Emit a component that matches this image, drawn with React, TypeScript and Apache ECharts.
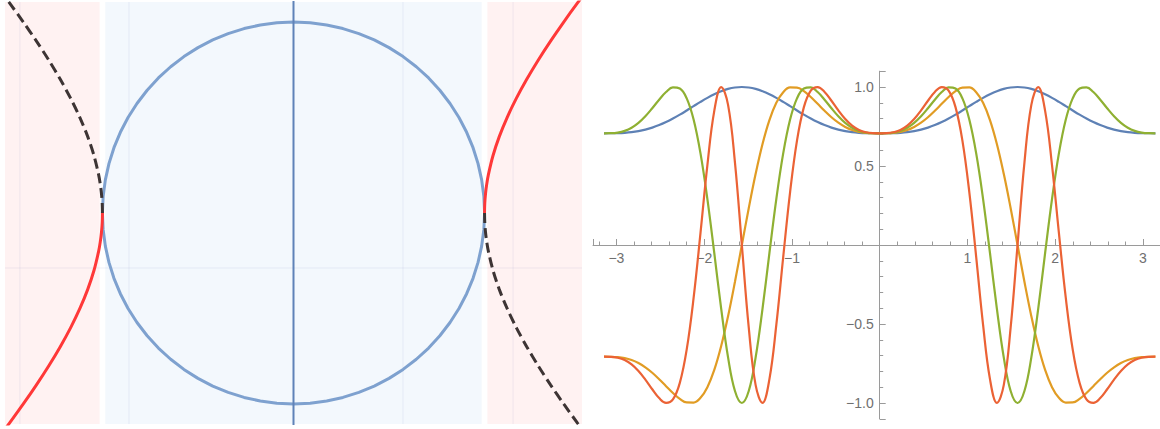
import { useEffect, useRef } from "react";
import * as echarts from "echarts";

// ---------- Right panel: four curves sampled on [-pi, pi] ----------
const xs = [
  -3.1416, -3.0631, -2.9845, -2.906, -2.8274, -2.7489, -2.6704, -2.5918, -2.5133, -2.4347,
  -2.3562, -2.2777, -2.1991, -2.1206, -2.042, -1.9635, -1.885, -1.8064, -1.7279, -1.6493,
  -1.5708, -1.4923, -1.4137, -1.3352, -1.2566, -1.1781, -1.0996, -1.021, -0.9425, -0.8639,
  -0.7854, -0.7069, -0.6283, -0.5498, -0.4712, -0.3927, -0.3142, -0.2356, -0.1571, -0.0785,
  0,
  0.0785, 0.1571, 0.2356, 0.3142, 0.3927, 0.4712, 0.5498, 0.6283, 0.7069, 0.7854,
  0.8639, 0.9425, 1.021, 1.0996, 1.1781, 1.2566, 1.3352, 1.4137, 1.4923, 1.5708,
  1.6493, 1.7279, 1.8064, 1.885, 1.9635, 2.042, 2.1206, 2.1991, 2.2777, 2.3562,
  2.4347, 2.5133, 2.5918, 2.6704, 2.7489, 2.8274, 2.906, 2.9845, 3.0631, 3.1416,
];

const blueY = [
  0.7071, 0.7072, 0.708, 0.7102, 0.7142, 0.7208, 0.7303, 0.743, 0.759, 0.7783,
  0.8005, 0.8251, 0.8515, 0.8787, 0.9057, 0.9312, 0.9541, 0.9734, 0.9879, 0.9969,
  1.0, 0.9969, 0.9879, 0.9734, 0.9541, 0.9312, 0.9057, 0.8787, 0.8515, 0.8251,
  0.8005, 0.7783, 0.759, 0.743, 0.7303, 0.7208, 0.7142, 0.7102, 0.708, 0.7072,
  0.7071,
  0.7072, 0.708, 0.7102, 0.7142, 0.7208, 0.7303, 0.743, 0.759, 0.7783, 0.8005,
  0.8251, 0.8515, 0.8787, 0.9057, 0.9312, 0.9541, 0.9734, 0.9879, 0.9969, 1.0,
  0.9969, 0.9879, 0.9734, 0.9541, 0.9312, 0.9057, 0.8787, 0.8515, 0.8251, 0.8005,
  0.7783, 0.759, 0.743, 0.7303, 0.7208, 0.7142, 0.7102, 0.708, 0.7072, 0.7071,
];

const orangeY = [
  -0.7071, -0.7075, -0.7098, -0.7162, -0.7283, -0.7474, -0.7742, -0.8086, -0.8493, -0.8934,
  -0.9368, -0.9736, -0.9964, -0.997, -0.9671, -0.8998, -0.7908, -0.6396, -0.4506, -0.233,
  0, 0.233, 0.4506, 0.6396, 0.7908, 0.8998, 0.9671, 0.997, 0.9964, 0.9736,
  0.9368, 0.8934, 0.8493, 0.8086, 0.7742, 0.7474, 0.7283, 0.7162, 0.7098, 0.7075,
  0.7071,
  0.7075, 0.7098, 0.7162, 0.7283, 0.7474, 0.7742, 0.8086, 0.8493, 0.8934, 0.9368,
  0.9736, 0.9964, 0.997, 0.9671, 0.8998, 0.7908, 0.6396, 0.4506, 0.233, 0,
  -0.233, -0.4506, -0.6396, -0.7908, -0.8998, -0.9671, -0.997, -0.9964, -0.9736, -0.9368,
  -0.8934, -0.8493, -0.8086, -0.7742, -0.7474, -0.7283, -0.7162, -0.7098, -0.7075, -0.7071,
];

const greenY = [
  0.7071, 0.7077, 0.7116, 0.7222, 0.742, 0.7728, 0.8147, 0.8655, 0.9197, 0.9682,
  0.9974, 0.9902, 0.9279, 0.794, 0.5799, 0.2906, -0.0506, -0.4025, -0.7116, -0.9242,
  -1.0, -0.9242, -0.7116, -0.4025, -0.0506, 0.2906, 0.5799, 0.794, 0.9279, 0.9902,
  0.9974, 0.9682, 0.9197, 0.8655, 0.8147, 0.7728, 0.742, 0.7222, 0.7116, 0.7077,
  0.7071,
  0.7077, 0.7116, 0.7222, 0.742, 0.7728, 0.8147, 0.8655, 0.9197, 0.9682, 0.9974,
  0.9902, 0.9279, 0.794, 0.5799, 0.2906, -0.0506, -0.4025, -0.7116, -0.9242, -1.0,
  -0.9242, -0.7116, -0.4025, -0.0506, 0.2906, 0.5799, 0.794, 0.9279, 0.9902, 0.9974,
  0.9682, 0.9197, 0.8655, 0.8147, 0.7728, 0.742, 0.7222, 0.7116, 0.7077, 0.7071,
];

const redY = [
  -0.7071, -0.7079, -0.7134, -0.7281, -0.7554, -0.7971, -0.8516, -0.9129, -0.9688, -0.9992,
  -0.9773, -0.8728, -0.6608, -0.3353, 0.0764, 0.5053, 0.8486, 0.9988, 0.8869, 0.5215,
  0, -0.5215, -0.8869, -0.9988, -0.8486, -0.5053, -0.0764, 0.3353, 0.6608, 0.8728,
  0.9773, 0.9992, 0.9688, 0.9129, 0.8516, 0.7971, 0.7554, 0.7281, 0.7134, 0.7079,
  0.7071,
  0.7079, 0.7134, 0.7281, 0.7554, 0.7971, 0.8516, 0.9129, 0.9688, 0.9992, 0.9773,
  0.8728, 0.6608, 0.3353, -0.0764, -0.5053, -0.8486, -0.9988, -0.8869, -0.5215, 0,
  0.5215, 0.8869, 0.9988, 0.8486, 0.5053, 0.0764, -0.3353, -0.6608, -0.8728, -0.9773,
  -0.9992, -0.9688, -0.9129, -0.8516, -0.7971, -0.7554, -0.7281, -0.7134, -0.7079, -0.7071,
];

const xLabelValues = [-3, -2, -1, 1, 2, 3];
const yLabelValues = [-1, -0.5, 0.5, 1];

// ---------- Left panel: circle, hyperbola, shaded bands ----------
const circleX = [
  1, 0.9962, 0.9848, 0.9659, 0.9397, 0.9063, 0.866, 0.8192, 0.766, 0.7071, 0.6428, 0.5736, 0.5, 0.4226, 0.342, 0.2588, 0.1736, 0.0872, 0,
  -0.0872, -0.1736, -0.2588, -0.342, -0.4226, -0.5, -0.5736, -0.6428, -0.7071, -0.766, -0.8192, -0.866, -0.9063, -0.9397, -0.9659, -0.9848, -0.9962, -1,
  -0.9962, -0.9848, -0.9659, -0.9397, -0.9063, -0.866, -0.8192, -0.766, -0.7071, -0.6428, -0.5736, -0.5, -0.4226, -0.342, -0.2588, -0.1736, -0.0872, 0,
  0.0872, 0.1736, 0.2588, 0.342, 0.4226, 0.5, 0.5736, 0.6428, 0.7071, 0.766, 0.8192, 0.866, 0.9063, 0.9397, 0.9659, 0.9848, 0.9962, 1,
];
const circleY = [
  0, 0.0872, 0.1736, 0.2588, 0.342, 0.4226, 0.5, 0.5736, 0.6428, 0.7071, 0.766, 0.8192, 0.866, 0.9063, 0.9397, 0.9659, 0.9848, 0.9962, 1,
  0.9962, 0.9848, 0.9659, 0.9397, 0.9063, 0.866, 0.8192, 0.766, 0.7071, 0.6428, 0.5736, 0.5, 0.4226, 0.342, 0.2588, 0.1736, 0.0872, 0,
  -0.0872, -0.1736, -0.2588, -0.342, -0.4226, -0.5, -0.5736, -0.6428, -0.7071, -0.766, -0.8192, -0.866, -0.9063, -0.9397, -0.9659, -0.9848, -0.9962, -1,
  -0.9962, -0.9848, -0.9659, -0.9397, -0.9063, -0.866, -0.8192, -0.766, -0.7071, -0.6428, -0.5736, -0.5, -0.4226, -0.342, -0.2588, -0.1736, -0.0872, 0,
];

// hyperbola branch magnitudes (|x|, |y|) starting at the vertex
const hypX = [1, 1.00125, 1.005, 1.0112, 1.0198, 1.044, 1.077, 1.118, 1.1662, 1.2207, 1.2806, 1.3454, 1.4142, 1.4866, 1.562];
const hypY = [0, 0.05, 0.1, 0.15, 0.2, 0.3, 0.4, 0.5, 0.6, 0.7, 0.8, 0.9, 1.0, 1.1, 1.2];

const bandStart = [-1.51, -0.985, 1.015];
const bandEnd = [-1.015, 0.985, 1.51];
const bandColors = ["#fff2f2", "#f3f8fd", "#fff2f2"];

const faintVertical = [-1.432, -0.861, 0.573, 1.149];
const faintHorizontal = [-0.288];

const axisLineXs = [0, 0];
const axisLineYs = [-1.2, 1.2];

const LEFT_X = [-1.51, 1.51];
const LEFT_Y = [-1.105, 1.105];

// right panel grid geometry
const R_LEFT = 593;
const R_TOP = 71.2;
const R_WIDTH = 573.4;
const R_HEIGHT = 347.6;
const R_X = [-3.267, 3.267];
const R_Y = [-1.1, 1.1];

const FONT = "'Liberation Sans', Arial, sans-serif";
const AX_COLOR = "#9a9a9a";
const LABEL_COLOR = "#707070";
const LABEL_GAP = 6;

const isOneOf = (v: number, list: number[]) => list.some((t) => Math.abs(t - v) < 1e-6);

function buildOption() {
  // distance from the grid edge to the zero line, so labels sit next to the on-zero axis
  const zeroFromLeft = (-R_X[0] / (R_X[1] - R_X[0])) * R_WIDTH;
  const zeroFromBottom = (-R_Y[0] / (R_Y[1] - R_Y[0])) * R_HEIGHT;

  const fnSeries = (name: string, ys: number[], color: string) => ({
    name,
    type: "line",
    xAxisIndex: 1,
    yAxisIndex: 1,
    data: xs.map((x, i) => [x, ys[i]]),
    showSymbol: false,
    smooth: 0.4,
    lineStyle: { color, width: 2.2 },
    z: 3,
  });

  const rightAxis = (
    min: number,
    max: number,
    labels: number[],
    digits: number,
    position: string,
    margin: number,
  ) => ({
    gridIndex: 1,
    type: "value",
    position,
    min,
    max,
    splitNumber: 5,
    splitLine: { show: false },
    axisLine: { show: true, onZero: true, lineStyle: { color: AX_COLOR, width: 1 } },
    axisTick: { show: true, inside: true, length: 6, lineStyle: { color: AX_COLOR } },
    minorTick: { show: true, splitNumber: 5, length: 3.5, lineStyle: { color: AX_COLOR } },
    axisLabel: {
      show: true,
      showMinLabel: false,
      showMaxLabel: false,
      margin,
      color: LABEL_COLOR,
      fontSize: 14,
      fontFamily: FONT,
      formatter: (v: number) => {
        if (!isOneOf(v, labels)) return "";
        const s = digits > 0 ? Math.abs(v).toFixed(digits) : String(Math.round(Math.abs(v)));
        return (v < 0 ? "\u2212" : "") + s;
      },
    },
  });

  return {
    animation: false,
    backgroundColor: "#ffffff",
    grid: [
      { left: 5, top: 2, width: 577, height: 422, outerBoundsMode: "none", containLabel: false },
      { left: R_LEFT, top: R_TOP, width: R_WIDTH, height: R_HEIGHT, outerBoundsMode: "none", containLabel: false },
    ],
    xAxis: [
      { gridIndex: 0, type: "value", min: LEFT_X[0], max: LEFT_X[1], show: false },
      rightAxis(R_X[0], R_X[1], xLabelValues, 0, "bottom", LABEL_GAP - zeroFromBottom),
    ],
    yAxis: [
      { gridIndex: 0, type: "value", min: LEFT_Y[0], max: LEFT_Y[1], show: false },
      rightAxis(R_Y[0], R_Y[1], yLabelValues, 1, "left", LABEL_GAP - zeroFromLeft),
    ],
    series: [
      {
        type: "custom",
        xAxisIndex: 0,
        yAxisIndex: 0,
        silent: true,
        z: 0,
        data: bandStart.map((s, i) => [s, bandEnd[i], i]),
        renderItem: (_p: any, api: any) => {
          const p0 = api.coord([api.value(0), LEFT_Y[1]]);
          const p1 = api.coord([api.value(1), LEFT_Y[0]]);
          return {
            type: "rect",
            shape: { x: p0[0], y: p0[1], width: p1[0] - p0[0], height: p1[1] - p0[1] },
            style: { fill: bandColors[api.value(2)] },
          };
        },
      },
      {
        type: "custom",
        xAxisIndex: 0,
        yAxisIndex: 0,
        silent: true,
        z: 1,
        data: [
          ...faintVertical.map((v) => [v, 0]),
          ...faintHorizontal.map((v) => [v, 1]),
        ],
        renderItem: (_p: any, api: any) => {
          const v = api.value(0);
          const horiz = api.value(1) === 1;
          const a = horiz ? api.coord([LEFT_X[0], v]) : api.coord([v, LEFT_Y[0]]);
          const b = horiz ? api.coord([LEFT_X[1], v]) : api.coord([v, LEFT_Y[1]]);
          return {
            type: "line",
            shape: { x1: a[0], y1: a[1], x2: b[0], y2: b[1] },
            style: { stroke: "rgba(140,150,200,0.13)", lineWidth: 1 },
          };
        },
      },
      {
        name: "circle",
        type: "line",
        xAxisIndex: 0,
        yAxisIndex: 0,
        data: circleX.map((x, i) => [x, circleY[i]]),
        showSymbol: false,
        lineStyle: { color: "#7ea1cf", width: 3 },
        z: 2,
      },
      {
        name: "axis",
        type: "line",
        xAxisIndex: 0,
        yAxisIndex: 0,
        data: axisLineXs.map((x, i) => [x, axisLineYs[i]]),
        showSymbol: false,
        lineStyle: { color: "#5f82b8", width: 2 },
        z: 3,
      },
      {
        name: "leftDashed",
        type: "line",
        xAxisIndex: 0,
        yAxisIndex: 0,
        data: hypX.map((x, i) => [-x, hypY[i]]),
        showSymbol: false,
        smooth: 0.3,
        lineStyle: { color: "#3d3434", width: 3, type: [10, 5] },
        z: 4,
      },
      {
        name: "leftRed",
        type: "line",
        xAxisIndex: 0,
        yAxisIndex: 0,
        data: hypX.map((x, i) => [-x, -hypY[i]]),
        showSymbol: false,
        smooth: 0.3,
        lineStyle: { color: "#ff3838", width: 3 },
        z: 4,
      },
      {
        name: "rightRed",
        type: "line",
        xAxisIndex: 0,
        yAxisIndex: 0,
        data: hypX.map((x, i) => [x, hypY[i]]),
        showSymbol: false,
        smooth: 0.3,
        lineStyle: { color: "#ff3838", width: 3 },
        z: 4,
      },
      {
        name: "rightDashed",
        type: "line",
        xAxisIndex: 0,
        yAxisIndex: 0,
        data: hypX.map((x, i) => [x, -hypY[i]]),
        showSymbol: false,
        smooth: 0.3,
        lineStyle: { color: "#3d3434", width: 3, type: [10, 5] },
        z: 4,
      },
      fnSeries("n1", blueY, "#5E81B5"),
      fnSeries("n3", orangeY, "#E19C24"),
      fnSeries("n5", greenY, "#8FB032"),
      fnSeries("n7", redY, "#EB6235"),
    ],
  };
}

export default function App() {
  const ref = useRef<HTMLDivElement>(null);
  useEffect(() => {
    if (!ref.current) return;
    const chart = echarts.init(ref.current, null, { renderer: "svg" });
    chart.setOption(buildOption() as any);
    return () => chart.dispose();
  }, []);
  return (
    <div
      ref={ref}
      style={{ position: "fixed", left: 0, top: 0, width: 1160, height: 429, background: "#ffffff" }}
    />
  );
}
